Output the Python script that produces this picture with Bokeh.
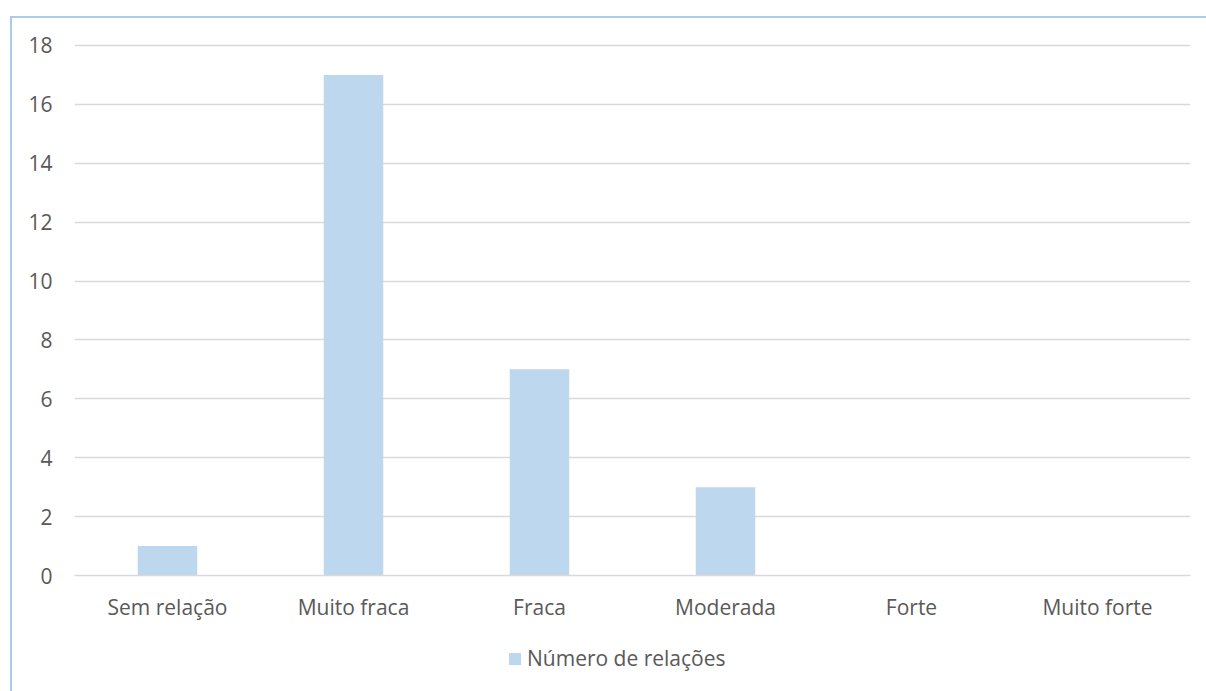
from bokeh.plotting import figure
from bokeh.models import ColumnDataSource, Legend, LegendItem, FixedTicker, Range1d
from bokeh.layouts import column
from bokeh.embed import file_html
from bokeh.resources import INLINE

categories = ["Sem relação", "Muito fraca", "Fraca", "Moderada", "Forte", "Muito forte"]
values = [1, 17, 7, 3, 0, 0]
y_ticks = [0, 2, 4, 6, 8, 10, 12, 14, 16, 18]
series_name = "Número de relações"

FONT = "Open Sans"
TXT = "#595959"
GRID = "#D9D9D9"
BAR = "#BDD7EE"
FS = "21px"

src = ColumnDataSource(dict(cat=categories, val=values))

p = figure(x_range=categories, y_range=Range1d(0, 18.1), width=1194, height=624,
           output_backend="svg", toolbar_location=None,
           min_border_left=62, min_border_right=16, min_border_top=24, min_border_bottom=67)
p.outline_line_color = None
p.background_fill_color = "white"
p.border_fill_color = "white"

r = p.vbar(x="cat", top="val", width=0.32, source=src, fill_color=BAR, line_color=None)

p.yaxis.ticker = FixedTicker(ticks=y_ticks)
p.yaxis.axis_line_color = None
p.yaxis.major_tick_line_color = None
p.yaxis.minor_tick_line_color = None
p.yaxis.major_label_standoff = 16
p.xaxis.axis_line_color = GRID
p.xaxis.axis_line_width = 1.5
p.xaxis.major_tick_line_color = None
p.xaxis.minor_tick_line_color = None
p.xaxis.major_label_standoff = 11
for ax in (p.xaxis, p.yaxis):
    ax.major_label_text_font = FONT
    ax.major_label_text_font_size = FS
    ax.major_label_text_color = TXT

p.xgrid.grid_line_color = None
p.ygrid.grid_line_color = GRID
p.ygrid.grid_line_width = 1.5

# legend strip (a second figure holding only the legend)
p2 = figure(x_range=Range1d(0, 1), y_range=Range1d(0, 1), width=1194, height=51,
            output_backend="svg", toolbar_location=None,
            x_axis_location=None, y_axis_location=None,
            min_border_left=62, min_border_right=16, min_border_top=0, min_border_bottom=0)
p2.grid.visible = False
p2.outline_line_color = None
p2.background_fill_color = "white"
p2.border_fill_color = "white"
r2 = p2.vbar(x=[0.5], top=[0], width=0.32, fill_color=BAR, line_color=None)

legend = Legend(items=[LegendItem(label=series_name, renderers=[r2], index=0)],
                orientation="horizontal", location=(433, 21),
                label_text_font=FONT, label_text_font_size=FS, label_text_color=TXT,
                glyph_width=15, glyph_height=15, label_standoff=5,
                border_line_color=None, background_fill_alpha=0, margin=0, padding=4)
p2.add_layout(legend, "center")

layout = column(p, p2, spacing=0, margin=(16, 0, 0, 10),
                styles={"border-left": "2px solid #A9CBEC", "border-top": "2px solid #A9CBEC"})

open("out.html", "w").write(file_html(layout, INLINE))
